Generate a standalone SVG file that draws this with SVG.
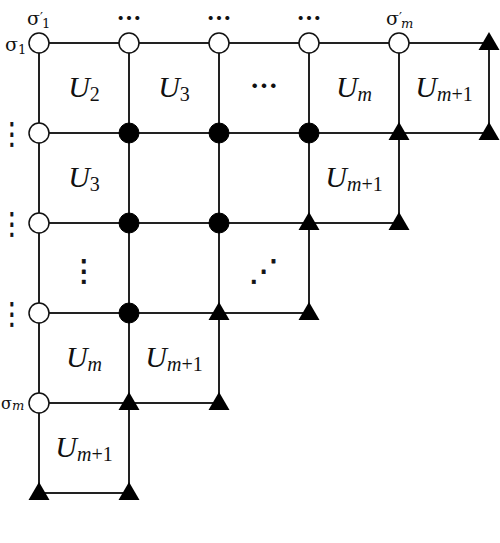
<svg xmlns="http://www.w3.org/2000/svg" xmlns:xlink="http://www.w3.org/1999/xlink" width="500" height="543" viewBox="0 0 500 543">
<style>
.ln{stroke:#222;stroke-width:2;fill:none}
.oc{fill:#fff;stroke:#111;stroke-width:1.5}
.fc{fill:#000;stroke:#000;stroke-width:1}
.tr{fill:#000}
.u{font-family:"Liberation Serif","DejaVu Serif",serif;font-style:italic;font-size:30px;fill:#111}
.sub{font-size:20px}
.sg{font-family:"DejaVu Serif","Liberation Serif",serif;font-size:19px;fill:#111}
.s1{font-size:13px}
.dots{font-family:"Noto Sans CJK JP","DejaVu Sans",sans-serif;font-size:25px;font-weight:bold;fill:#111}
.vd{font-family:"DejaVu Sans",sans-serif;font-size:30px;fill:#111;stroke:#111;stroke-width:0.7;stroke-linejoin:round}
</style>
<defs>
<circle id="open" r="10" class="oc"/>
<circle id="fill" r="10" class="fc"/>
<path id="tri" d="M0,-11 L10.5,7 L-10.5,7 Z" class="tr"/>
</defs>
<g id="connectors">
<line class="ln" x1="39" y1="43" x2="489" y2="43"/>
<line class="ln" x1="39" y1="133" x2="489" y2="133"/>
<line class="ln" x1="39" y1="223" x2="399" y2="223"/>
<line class="ln" x1="39" y1="313" x2="309" y2="313"/>
<line class="ln" x1="39" y1="403" x2="219" y2="403"/>
<line class="ln" x1="39" y1="493" x2="129" y2="493"/>
<line class="ln" x1="39" y1="43" x2="39" y2="493"/>
<line class="ln" x1="129" y1="43" x2="129" y2="493"/>
<line class="ln" x1="219" y1="43" x2="219" y2="403"/>
<line class="ln" x1="309" y1="43" x2="309" y2="313"/>
<line class="ln" x1="399" y1="43" x2="399" y2="223"/>
<line class="ln" x1="489" y1="43" x2="489" y2="133"/>
</g>
<g id="n00"><use xlink:href="#open" x="39" y="43"/></g>
<g id="n01"><use xlink:href="#open" x="129" y="43"/></g>
<g id="n02"><use xlink:href="#open" x="219" y="43"/></g>
<g id="n03"><use xlink:href="#open" x="309" y="43"/></g>
<g id="n04"><use xlink:href="#open" x="399" y="43"/></g>
<g id="n05"><use xlink:href="#tri" x="489" y="43"/></g>
<g id="n10"><use xlink:href="#open" x="39" y="133"/></g>
<g id="n11"><use xlink:href="#fill" x="129" y="133"/></g>
<g id="n12"><use xlink:href="#fill" x="219" y="133"/></g>
<g id="n13"><use xlink:href="#fill" x="309" y="133"/></g>
<g id="n14"><use xlink:href="#tri" x="399" y="133"/></g>
<g id="n15"><use xlink:href="#tri" x="489" y="133"/></g>
<g id="n20"><use xlink:href="#open" x="39" y="223"/></g>
<g id="n21"><use xlink:href="#fill" x="129" y="223"/></g>
<g id="n22"><use xlink:href="#fill" x="219" y="223"/></g>
<g id="n23"><use xlink:href="#tri" x="309" y="223"/></g>
<g id="n24"><use xlink:href="#tri" x="399" y="223"/></g>
<g id="n30"><use xlink:href="#open" x="39" y="313"/></g>
<g id="n31"><use xlink:href="#fill" x="129" y="313"/></g>
<g id="n32"><use xlink:href="#tri" x="219" y="313"/></g>
<g id="n33"><use xlink:href="#tri" x="309" y="313"/></g>
<g id="n40"><use xlink:href="#open" x="39" y="403"/></g>
<g id="n41"><use xlink:href="#tri" x="129" y="403"/></g>
<g id="n42"><use xlink:href="#tri" x="219" y="403"/></g>
<g id="n50"><use xlink:href="#tri" x="39" y="493"/></g>
<g id="n51"><use xlink:href="#tri" x="129" y="493"/></g>
<g id="labels">
<text class="sg" x="27" y="25">σ<tspan class="s1" dy="-3">′</tspan><tspan class="s1" dx="-1" dy="6">1</tspan></text>
<text class="sg" x="386" y="25">σ<tspan class="s1" dy="-3">′</tspan><tspan class="s1" dx="-1" dy="6" font-style="italic">m</tspan></text>
<text class="sg" x="5" y="51">σ<tspan class="s1" dy="3">1</tspan></text>
<text class="sg" x="1" y="409" style="font-size:16px">σ<tspan class="s1" dy="1" font-style="italic">m</tspan></text>
<text class="dots" x="129" y="28" text-anchor="middle">⋯</text>
<text class="dots" x="219" y="28" text-anchor="middle">⋯</text>
<text class="dots" x="309" y="28" text-anchor="middle">⋯</text>
<text class="dots" x="264" y="97" text-anchor="middle" style="font-size:28px">⋯</text>
<text class="vd" transform="translate(12,144) scale(0.75,1)" text-anchor="middle">⋮</text>
<text class="vd" transform="translate(12,234) scale(0.75,1)" text-anchor="middle">⋮</text>
<text class="vd" transform="translate(12,324) scale(0.75,1)" text-anchor="middle">⋮</text>
<text class="vd" x="84" y="281" text-anchor="middle">⋮</text>
<text class="vd" x="264" y="281" text-anchor="middle">⋰</text>
<text class="u" x="84" y="97" text-anchor="middle">U<tspan class="sub" dy="4" font-style="normal">2</tspan></text>
<text class="u" x="174" y="97" text-anchor="middle">U<tspan class="sub" dy="4" font-style="normal">3</tspan></text>
<text class="u" x="354" y="97" text-anchor="middle">U<tspan class="sub" dy="4">m</tspan></text>
<text class="u" x="444" y="97" text-anchor="middle">U<tspan class="sub" dy="4">m</tspan><tspan class="sub" font-style="normal">+1</tspan></text>
<text class="u" x="84" y="187" text-anchor="middle">U<tspan class="sub" dy="4" font-style="normal">3</tspan></text>
<text class="u" x="354" y="187" text-anchor="middle">U<tspan class="sub" dy="4">m</tspan><tspan class="sub" font-style="normal">+1</tspan></text>
<text class="u" x="84" y="367" text-anchor="middle">U<tspan class="sub" dy="4">m</tspan></text>
<text class="u" x="174" y="367" text-anchor="middle">U<tspan class="sub" dy="4">m</tspan><tspan class="sub" font-style="normal">+1</tspan></text>
<text class="u" x="84" y="457" text-anchor="middle">U<tspan class="sub" dy="4">m</tspan><tspan class="sub" font-style="normal">+1</tspan></text>
</g>
</svg>
